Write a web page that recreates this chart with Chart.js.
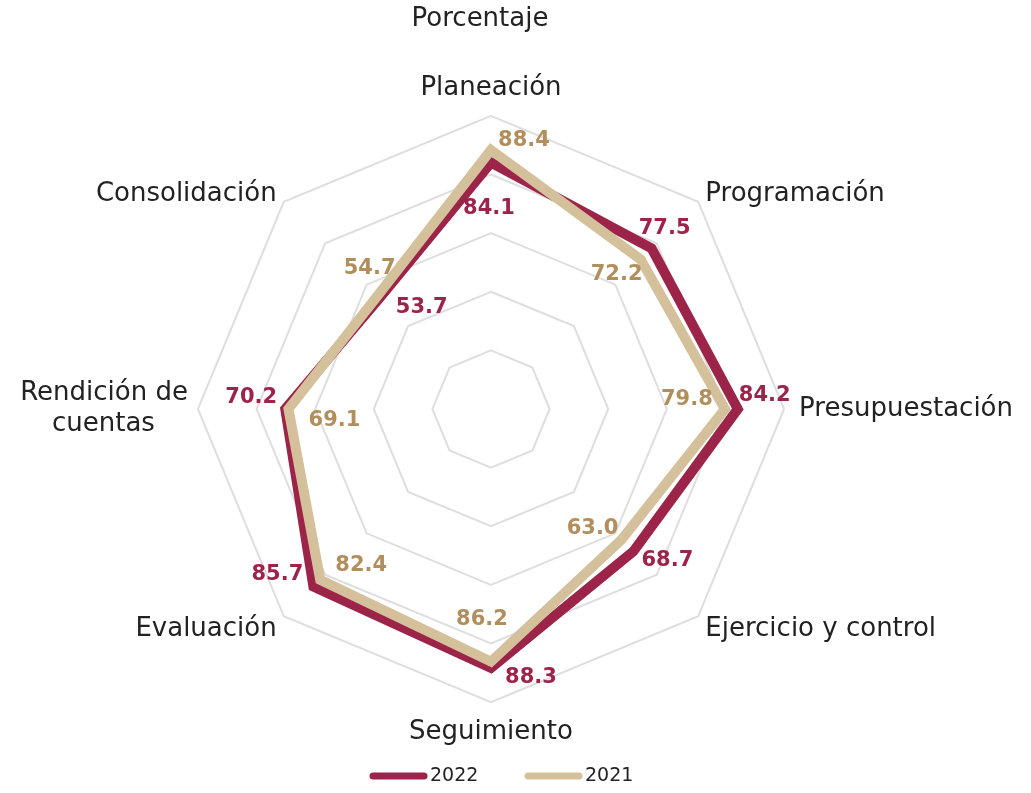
<!DOCTYPE html>
<html>
<head>
<meta charset="utf-8">
<script src="https://cdn.jsdelivr.net/npm/chart.js@4/dist/chart.umd.min.js"></script>
<style>
  html, body { margin: 0; padding: 0; background: #fff; overflow: hidden; }
  /* canvas a little wider than the window so the long right label still leaves a big radius */
  #wrap { width: 1043px; height: 793px; margin-left: -6px; }
</style>
</head>
<body>
<div id="wrap"><canvas id="radarChart"></canvas></div>
<script>
// categories and values
const categories = ['Planeación', 'Programación', 'Presupuestación', 'Ejercicio y control',
    'Seguimiento', 'Evaluación', ['Rendición de', 'cuentas    '], 'Consolidación'];
const values2022 = [84.1, 77.5, 84.2, 68.7, 88.3, 85.7, 70.2, 53.7];
const values2021 = [88.4, 72.2, 79.8, 63.0, 86.2, 82.4, 69.1, 54.7];
const scaleTicks = [0, 20, 40, 60, 80, 100];
const seriesNames = ['2022', '2021'];

// where each value label sits relative to its point (px)
const offsets2022 = [[-2, 46], [13, -20], [27, -13], [34, 9], [40, 10], [-36, -12], [-34, -11], [42, 10]];
const offsets2021 = [[33, -9], [-24, 15], [-38, -9], [-29, -11], [-9, -42], [41, -14], [46, 12], [-8, -27]];

// per-category label nudges: radial padding and line height (moves diagonal labels up/down)
const labelPadding = [12, 10, 15, 10, 15, 10, 10, 10];
const labelLineHeight = [1.2, 0.02, 1.2, 0.43, 1.2, 0.43, 1.2, 0.02];

const FONT = '"DejaVu Sans", sans-serif';
const maroon = '#9D2449';
const beige = '#D4C19C';
const gold = '#B38E5D';
const SHIFT = 6; // canvas starts 6px left of the window

const valueLabels = {
    id: 'valueLabels',
    afterDatasetsDraw(chart) {
        const ctx = chart.ctx;
        ctx.save();
        ctx.font = 'bold 21px ' + FONT;
        ctx.textAlign = 'center';
        ctx.textBaseline = 'middle';
        chart.data.datasets.forEach((ds, i) => {
            const meta = chart.getDatasetMeta(i);
            ctx.fillStyle = ds.labelColor;
            meta.data.forEach((pt, j) => {
                const off = ds.labelOffsets[j];
                ctx.fillText(ds.data[j].toFixed(1), pt.x + off[0], pt.y + off[1]);
            });
        });
        ctx.restore();
    }
};

// title and legend drawn by hand so they sit where the original has them
const titleAndLegend = {
    id: 'titleAndLegend',
    afterDraw(chart) {
        const ctx = chart.ctx;
        ctx.save();
        ctx.fillStyle = '#222222';
        ctx.textBaseline = 'middle';
        ctx.font = '26px ' + FONT;
        ctx.textAlign = 'center';
        ctx.fillText('Porcentaje', 480 + SHIFT, 19);

        // legend: 2022 first, then 2021
        ctx.font = '19px ' + FONT;
        ctx.textAlign = 'left';
        const ly = 776;
        const colors = [maroon, beige];
        let x = 373 + SHIFT;
        seriesNames.forEach((name, i) => {
            ctx.strokeStyle = colors[i];
            ctx.lineWidth = 7;
            ctx.lineCap = 'round';
            ctx.beginPath();
            ctx.moveTo(x, ly);
            ctx.lineTo(x + 51, ly);
            ctx.stroke();
            ctx.fillText(name, x + 57, ly);
            x += 155;
        });
        ctx.restore();
    }
};

const ctx = document.getElementById('radarChart').getContext('2d');
const radarChart = new Chart(ctx, {
    type: 'radar',
    data: {
        labels: categories,
        datasets: [{
            label: seriesNames[1],
            data: values2021,
            borderColor: beige,
            backgroundColor: 'transparent',
            borderWidth: 10,
            pointRadius: 0,
            fill: false,
            labelColor: gold,
            labelOffsets: offsets2021
        }, {
            label: seriesNames[0],
            data: values2022,
            borderColor: maroon,
            backgroundColor: 'transparent',
            borderWidth: 10,
            pointRadius: 0,
            fill: false,
            labelColor: maroon,
            labelOffsets: offsets2022
        }]
    },
    options: {
        responsive: true,
        maintainAspectRatio: false,
        animation: false,
        layout: { padding: { left: 0, right: 0, top: 70, bottom: 41 } },
        scales: {
            r: {
                min: scaleTicks[0],
                max: scaleTicks[scaleTicks.length - 1],
                ticks: { stepSize: 20, display: false },
                grid: { color: '#DEDEDE', lineWidth: 2 },
                angleLines: { display: false },
                pointLabels: {
                    font: (c) => ({ family: FONT, size: 26, lineHeight: labelLineHeight[c.index] }),
                    color: '#222222',
                    padding: (c) => labelPadding[c.index]
                }
            }
        },
        plugins: {
            tooltip: { enabled: false },
            title: { display: false },
            legend: { display: false }
        }
    },
    plugins: [valueLabels, titleAndLegend]
});
</script>
</body>
</html>
